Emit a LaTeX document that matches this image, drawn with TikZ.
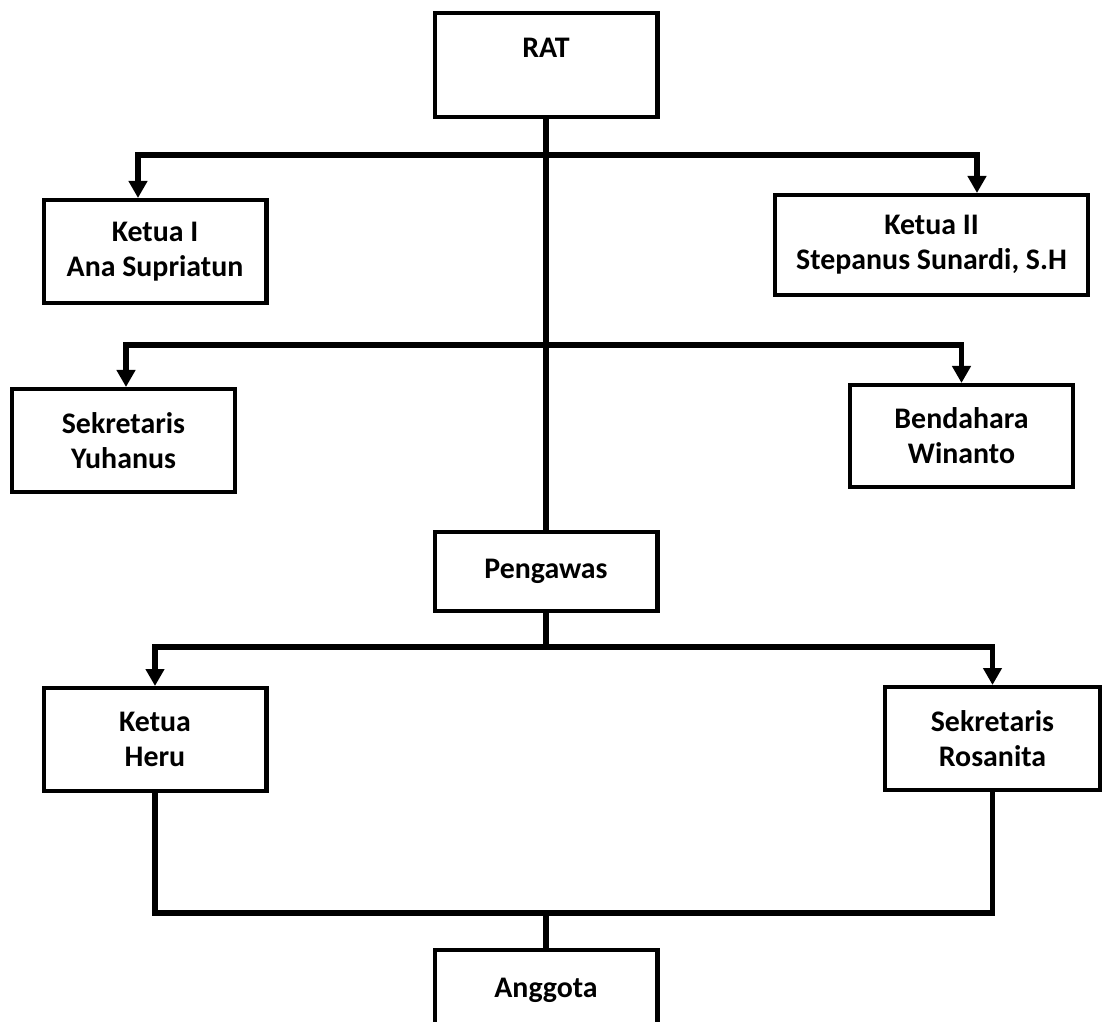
\documentclass[tikz,border=0pt]{standalone}
\usepackage{fontspec}
\setmainfont{Carlito}
\usetikzlibrary{arrows.meta,positioning}

\begin{document}
\begin{tikzpicture}[x=0.02cm, y=-0.02cm, font=\fontsize{17}{20}\selectfont\bfseries]
    \tikzset{>={Triangle[width=0.36cm, length=0.34cm]}}
    % Page frame
    \useasboundingbox (0,0) rectangle (1102,1021);
    \clip (0,0) rectangle (1102,1021);
    % Draw the boxes
    \tikzstyle{box}   = [rectangle, draw = black, line width = 2.3pt, fill = white, align = center, minimum width = 4.46cm, minimum height = 2.06cm]
    \tikzstyle{small} = [box, minimum height = 1.6cm]
    \tikzstyle{arrow} = [line width = 3.3pt, ->]
    \tikzstyle{line}  = [line width = 3.3pt]

    \node[box, minimum height = 2.08cm] (rat) at (546,65) {RAT\\ \mbox{}};
    \node[box] (ketuaA) at (155,251.5) {Ketua I\\Ana Supriatun};
    \node[box, minimum width = 6.26cm, minimum height = 2cm] (ketuaB) at (931.5,245) {Ketua II\\Stepanus Sunardi, S.H};
    \node[box] (sekA) at (123.5,440.5) {Sekretaris\\Yuhanus};
    \node[box, minimum height = 2.04cm] (bendahara) at (961.5,436) {Bendahara\\Winanto};
    \node[small, minimum height = 1.58cm] (pengawas) at (546,571.5) {Pengawas};
    \node[box] (ketuaC) at (155,739.5) {Ketua\\Heru};
    \node[box, minimum width = 4.3cm] (sekB) at (992.5,738.5) {Sekretaris\\Rosanita};
    \node[small] (anggota) at (546,990) {Anggota};

    \coordinate (j1) at (546,155);
    \coordinate (j2) at (546,345);
    \coordinate (j3) at (546,647);
    \coordinate (j4) at (546,913);

    \draw[line] (rat.south) -- (pengawas.north);
    \draw[arrow] (j1) -| ([xshift=-0.34cm]ketuaA.north);
    \draw[arrow] (j1) -| ([xshift=0.91cm]ketuaB.north);
    \draw[arrow] (j2) -| ([xshift=0.05cm]sekA.north);
    \draw[arrow] (j2) -| (bendahara.north);

    \draw[line] (pengawas.south) -- (j3);
    \draw[arrow] (j3) -| (ketuaC.north);
    \draw[arrow] (j3) -| (sekB.north);

    \draw[line] (ketuaC.south) |- (j4) -| (sekB.south);
    \draw[line] (j4) -- (anggota.north);
\end{tikzpicture}
\end{document}
